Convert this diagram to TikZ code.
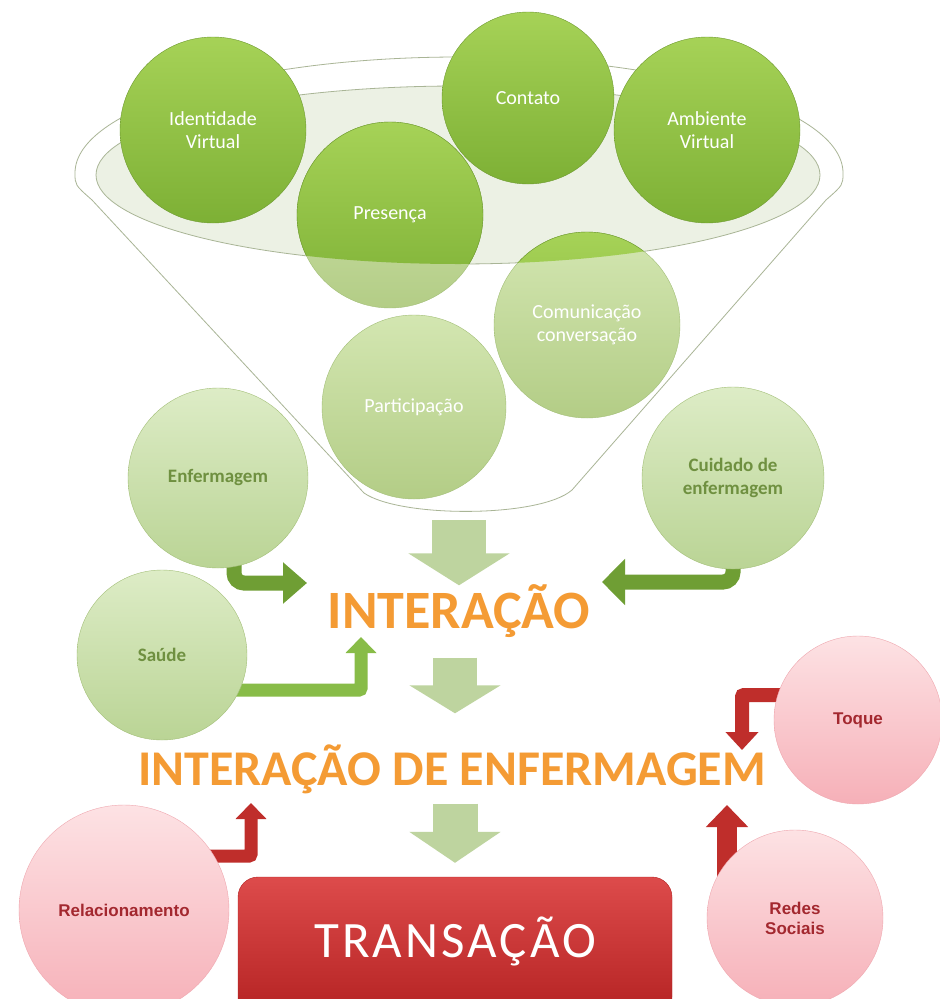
\documentclass[tikz,border=0pt]{standalone}
\usepackage{fontspec}
\setmainfont{Carlito}
\newfontfamily\pesada{Liberation Sans}
\usetikzlibrary{arrows.meta,backgrounds}

\definecolor{verdetopo}{HTML}{A6D257}
\definecolor{verdebase}{HTML}{7DB035}
\definecolor{verdeborda}{HTML}{6E9A30}
\definecolor{palidotopo}{HTML}{D3E6B1}
\definecolor{palidobase}{HTML}{B3CD86}
\definecolor{palidoborda}{HTML}{A3BF78}
\definecolor{ladotopo}{HTML}{DDECC6}
\definecolor{ladobase}{HTML}{BAD495}
\definecolor{textolado}{HTML}{6F9040}
\definecolor{rosatopo}{HTML}{FDE2E4}
\definecolor{rosabase}{HTML}{F6B0B8}
\definecolor{rosaborda}{HTML}{EFA7AF}
\definecolor{vinho}{HTML}{A3282F}
\definecolor{laranja}{HTML}{F49B34}
\definecolor{caixatopo}{HTML}{DD4B4B}
\definecolor{caixabase}{HTML}{B42222}
\definecolor{linhafunil}{HTML}{A9B596}
\definecolor{aro}{HTML}{ECF1E4}
\definecolor{setaclara}{HTML}{BED49F}
\definecolor{setaverde}{HTML}{6F9E34}
\definecolor{setasaude}{HTML}{88BC48}
\definecolor{setavermelha}{HTML}{BF2E2B}

\tikzset{
	bola/.style={circle,inner sep=0pt,align=center,minimum size=#1},
	tomescuro/.style={top color=verdetopo,bottom color=verdebase,draw=verdeborda},
	tompalido/.style={top color=palidotopo,bottom color=palidobase,draw=palidoborda},
	escura/.style={text=white,font=\fontsize{20}{23}\selectfont},
	lateral/.style={top color=ladotopo,bottom color=ladobase,draw=palidoborda,text=textolado,font=\fontsize{19}{23}\selectfont\bfseries},
	rosa/.style={top color=rosatopo,bottom color=rosabase,draw=rosaborda,text=vinho,font=\pesada\fontsize{17}{20}\selectfont\bfseries},
	titulo/.style={text=laranja,inner sep=0pt,text height=35pt,text depth=0pt},
	setabloco/.style={draw=setaclara,line cap=butt},
	setaL/.style={line cap=butt,line join=miter,rounded corners=#1},
}

\begin{document}
\begin{tikzpicture}[line cap=round,line join=round,x=1pt,y=-1pt]
	\useasboundingbox (0,0) rectangle (940,999);
	\node[bola=186pt,tomescuro,escura] (identidade) at (213,130) {Identidade\\Virtual};
	\node[bola=172pt,tomescuro,escura] (contato) at (528,98) {Contato};
	\node[bola=186pt,tomescuro,escura] (ambiente) at (707,130) {Ambiente\\Virtual};
	\node[bola=186pt,escura] (presenca) at (390,215) {Presença};
	\node[bola=186pt,escura] (comunic) at (587,325) {Comunicação\\conversação};
	\node[bola=184pt,tompalido,escura] (particip) at (414,407) {Participação};
	\node[bola=180pt,lateral] (enfermagem) at (218,478) {Enfermagem};
	\node[bola=182pt,lateral] (cuidado) at (733,478) {Cuidado de\\enfermagem};
	\node[bola=170pt,lateral] (saude) at (162,655) {Saúde};
	\node[bola=168pt,rosa] (toque) at (858,720) {Toque};
	\node[bola=210pt,rosa] (relac) at (124,910) {Relacionamento};
	\node[bola=176pt,rosa] (redes) at (795,918) {Redes\\Sociais};
	\coordinate (funil) at (459,520);
	\node[titulo,font=\fontsize{54}{54}\selectfont\bfseries] (interacao) at (459,611) {INTERAÇÃO};
	\node[titulo,font=\fontsize{50}{50}\selectfont\bfseries] (ienf) at (452,768) {INTERAÇÃO DE ENFERMAGEM};
	\node[rectangle,rounded corners=20pt,minimum width=434pt,minimum height=140pt,top color=caixatopo,bottom color=caixabase,draw=caixabase,text=white,text height=33pt,text depth=12pt,font=\fontsize{51}{51}\selectfont\addfontfeature{LetterSpace=6}] (transacao) at (455,947) {TRANSAÇÃO};
	\begin{scope}[on background layer]
		\fill[white] (0,0) rectangle (940,999);
		\draw[setabloco,line width=54pt,-{Triangle[width=100pt,length=32pt]}] (funil) -- ([yshift=8pt]interacao.north);
		\draw[setabloco,line width=44pt,-{Triangle[width=90pt,length=28pt]}] ([xshift=-4pt,yshift=-29pt]interacao.south) -- ([xshift=3pt,yshift=37pt]ienf.north);
		\draw[setabloco,line width=45pt,-{Triangle[width=90pt,length=31pt]}] ([xshift=3pt,yshift=-18pt]ienf.south) -- ([yshift=14pt]transacao.north);
		\draw[setaL=10pt,draw=setaverde,line width=15pt,-{Triangle[width=40pt,length=24pt]}] ([xshift=16pt]enfermagem.center) |- ([xshift=-152pt,yshift=28pt]interacao.center);
		\draw[setaL=10pt,draw=setaverde,line width=15pt,-{Triangle[width=45pt,length=23pt]}] (cuidado.center) |- ([xshift=143pt,yshift=29pt]interacao.center);
		\draw[setaL=2pt,draw=setasaude,line width=13pt,-{Triangle[width=30pt,length=16pt]}] ([yshift=-35pt]saude.center) -| ([xshift=-98pt,yshift=-26pt]interacao.center);
		\draw[setaL=2pt,draw=setavermelha,line width=14pt,-{Triangle[width=32pt,length=18pt]}] ([yshift=25pt]toque.center) -| ([xshift=290pt,yshift=18pt]ienf.center);
		\draw[setaL=2pt,draw=setavermelha,line width=13pt,-{Triangle[width=30pt,length=16pt]}] ([yshift=54pt]relac.center) -| ([xshift=-201pt,yshift=-35pt]ienf.center);
		\draw[setaL=2pt,draw=setavermelha,line width=20pt,-{Triangle[width=41pt,length=22pt]}] ([xshift=-68pt]redes.center) -- ([xshift=275pt,yshift=-37pt]ienf.center);
		\filldraw[draw=linhafunil,fill=white,line width=0.8pt] (75,173) arc[start angle=180,end angle=360,x radius=384,y radius=116] .. controls (843,185) .. (826,200) -- (572,490) .. controls (540,518) and (400,518) .. (364,493) -- (92,200) .. controls (75,185) .. (75,173) -- cycle;
		\filldraw[draw=linhafunil,fill=aro,line width=0.8pt] (458,175) ellipse[x radius=362,y radius=89];
		\shadedraw[tompalido] (presenca.center) circle[radius=93];
		\shadedraw[tompalido] (comunic.center) circle[radius=93];
		\begin{scope}
			\clip (0,0) -- (940,0) -- (940,175) -- (820,175) arc[start angle=0,end angle=180,x radius=362,y radius=89] -- (0,175) -- cycle;
			\shadedraw[tomescuro] (presenca.center) circle[radius=93];
			\shadedraw[tomescuro] (comunic.center) circle[radius=93];
		\end{scope}
	\end{scope}
\end{tikzpicture}
\end{document}
